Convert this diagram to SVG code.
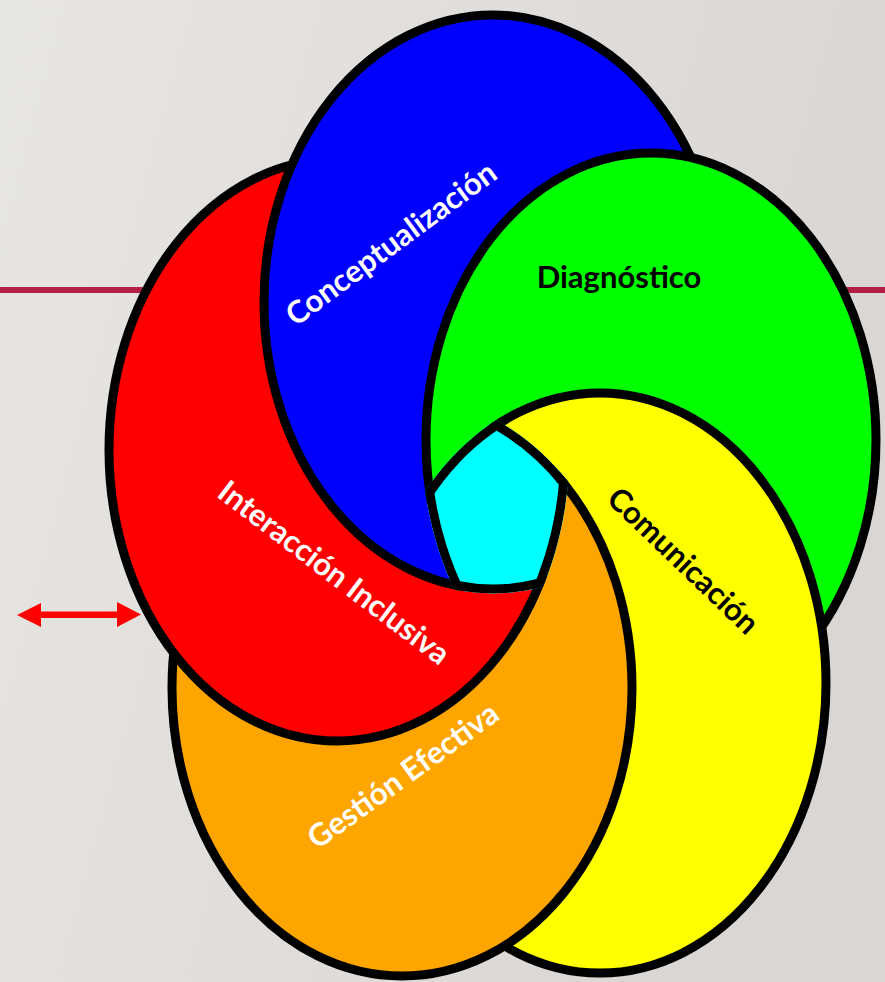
<svg xmlns="http://www.w3.org/2000/svg" width="885" height="982" viewBox="0 0 885 982">
<defs>
<style>
.ol{fill:none;stroke:#000;stroke-width:9}
.lbl{font-family:Lato,'Open Sans','Liberation Sans',sans-serif;font-weight:700;font-size:31px;text-anchor:middle}
.w{fill:#fff}
.k{fill:#000}
</style>
<linearGradient id="bg" x1="0" y1="0" x2="1" y2="0.3">
<stop offset="0" stop-color="#e8e6e3"/>
<stop offset="1" stop-color="#d9d6d3"/>
</linearGradient>
<ellipse id="eR" cx="337" cy="450" rx="228" ry="291"/>
<ellipse id="eB" cx="493" cy="302" rx="229" ry="287"/>
<ellipse id="eG" cx="651" cy="440" rx="225" ry="287"/>
<ellipse id="eY" cx="600" cy="683" rx="226" ry="290"/>
<ellipse id="eO" cx="402" cy="688" rx="230" ry="288"/>
<mask id="mR" maskUnits="userSpaceOnUse" x="0" y="0" width="885" height="982"><rect width="885" height="982" fill="#fff"/><use href="#eB" fill="#000"/></mask>
<mask id="mB" maskUnits="userSpaceOnUse" x="0" y="0" width="885" height="982"><rect width="885" height="982" fill="#fff"/><use href="#eG" fill="#000"/></mask>
<mask id="mG" maskUnits="userSpaceOnUse" x="0" y="0" width="885" height="982"><rect width="885" height="982" fill="#fff"/><use href="#eY" fill="#000"/></mask>
<mask id="mY" maskUnits="userSpaceOnUse" x="0" y="0" width="885" height="982"><rect width="885" height="982" fill="#fff"/><use href="#eO" fill="#000"/></mask>
<mask id="mO" maskUnits="userSpaceOnUse" x="0" y="0" width="885" height="982"><rect width="885" height="982" fill="#fff"/><use href="#eR" fill="#000"/></mask>
<clipPath id="cR"><ellipse cx="337" cy="450" rx="232.5" ry="295.5"/></clipPath>
<clipPath id="cB"><ellipse cx="493" cy="302" rx="233.5" ry="291.5"/></clipPath>
<clipPath id="cG"><ellipse cx="651" cy="440" rx="229.5" ry="291.5"/></clipPath>
<clipPath id="cY"><ellipse cx="600" cy="683" rx="230.5" ry="294.5"/></clipPath>
<clipPath id="cO"><ellipse cx="402" cy="688" rx="234.5" ry="292.5"/></clipPath>
</defs>

<rect id="background" width="885" height="982" fill="url(#bg)"/>
<rect id="title-rule" x="0" y="287" width="885" height="6" fill="#b41f45"/>

<g id="petal-interaccion">
<use href="#eR" fill="#ff0000" mask="url(#mR)"/>
</g>
<g id="petal-conceptualizacion">
<use href="#eB" fill="#0000ff" mask="url(#mB)"/>
</g>
<g id="petal-diagnostico">
<use href="#eG" fill="#00ff00" mask="url(#mG)"/>
</g>
<g id="petal-comunicacion">
<use href="#eY" fill="#ffff00" mask="url(#mY)"/>
</g>
<g id="petal-gestion">
<use href="#eO" fill="#ffa500" mask="url(#mO)"/>
</g>

<g id="outlines">
<use href="#eR" class="ol" mask="url(#mR)"/>
<use href="#eB" class="ol" mask="url(#mB)"/>
<use href="#eG" class="ol" mask="url(#mG)"/>
<use href="#eY" class="ol" mask="url(#mY)"/>
<use href="#eO" class="ol" mask="url(#mO)"/>
</g>

<g id="center">
<g clip-path="url(#cR)"><g clip-path="url(#cB)"><g clip-path="url(#cG)"><g clip-path="url(#cY)"><g clip-path="url(#cO)">
<rect x="380" y="380" width="260" height="260" fill="#00ffff"/>
<use href="#eR" class="ol"/>
<use href="#eB" class="ol"/>
<use href="#eG" class="ol"/>
<use href="#eY" class="ol"/>
<use href="#eO" class="ol"/>
</g></g></g></g></g>
</g>

<g id="labels">
<text class="lbl w" transform="translate(392,245) rotate(-36.4)" x="0" y="9">Conceptualización</text>
<text class="lbl k" x="619" y="288">Diagnóstico</text>
<text class="lbl w" transform="translate(333,574) rotate(37.2)" x="0" y="9">Interacción Inclusiva</text>
<text class="lbl k" transform="translate(682,562) rotate(43.8)" x="0" y="9">Comunicación</text>
<text class="lbl w" transform="translate(404,777) rotate(-35.7)" x="0" y="9">Gestión Efectiva</text>
</g>

<g id="connectors">
<polygon id="double-arrow" fill="#ff0000" points="17,615 41,603 41,611.5 117,611.5 117,602 141,614.5 117,627 117,618 41,618 41,627"/>
</g>
</svg>
